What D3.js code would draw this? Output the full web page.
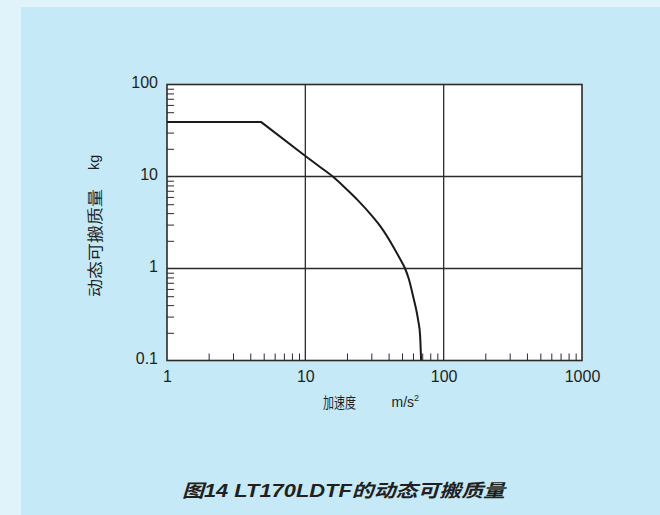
<!DOCTYPE html>
<html>
<head>
<meta charset="utf-8">
<script src="https://cdn.jsdelivr.net/npm/d3@7"></script>
<style>
  html, body { margin: 0; padding: 0; background: #e0f3fb; }
  svg { display: block; }
  text { fill: #231f20; font-family: "Liberation Sans", Arial, "Noto Sans CJK SC", sans-serif; }
  .cjk { font-family: "Noto Sans CJK SC", sans-serif; }
</style>
</head>
<body>
<svg id="chart" width="660" height="515"></svg>
<script>
// Dynamic payload vs. acceleration (log-log)
const acceleration = [1, 4.8, 10, 12.5, 15.8, 20, 24, 30, 35, 43, 48, 52.6, 56, 60.5, 63.5, 65.5, 67.5, 68.7];
const payload      = [39, 39, 16.7, 13.0, 10, 7.2, 5.5, 3.8, 2.85, 1.75, 1.3, 1, 0.77, 0.48, 0.35, 0.27, 0.19, 0.1];

const xMajorTicks = [1, 10, 100, 1000];
const yMajorTicks = [0.1, 1, 10, 100];
const xTickLabels = ["1", "10", "100", "1000"];
const yTickLabels = ["0.1", "1", "10", "100"];
const minorSteps  = [2, 3, 4, 5, 6, 7, 8, 9];

const svg = d3.select("#chart");
const ink = "#2b2b2b";

// panel background
svg.append("rect").attr("x", 21).attr("y", 7).attr("width", 660 - 21).attr("height", 515 - 7)
  .attr("fill", "#c6e9f8");

const plotLeft = 167, plotRight = 582, plotTop = 84.5, plotBottom = 360.5;
const x = d3.scaleLog().domain([1, 1000]).range([plotLeft, plotRight]);
const y = d3.scaleLog().domain([0.1, 100]).range([plotBottom, plotTop]);

// plot area
svg.append("rect").attr("x", plotLeft).attr("y", plotTop)
  .attr("width", plotRight - plotLeft).attr("height", plotBottom - plotTop)
  .attr("fill", "#ffffff");

// minor ticks inside the frame
const xMinor = [];
const yMinor = [];
[1, 10, 100].forEach(d => minorSteps.forEach(s => xMinor.push(d * s)));
[0.1, 1, 10].forEach(d => minorSteps.forEach(s => yMinor.push(d * s)));

const gxMinor = svg.append("g").attr("transform", `translate(0,${plotBottom})`)
  .call(d3.axisBottom(x).tickValues(xMinor).tickSize(-7).tickFormat(""));
gxMinor.select(".domain").remove();
gxMinor.selectAll("line").attr("stroke", ink).attr("stroke-width", 1);

const gyMinor = svg.append("g").attr("transform", `translate(${plotLeft},0)`)
  .call(d3.axisLeft(y).tickValues(yMinor).tickSize(-7).tickFormat(""));
gyMinor.select(".domain").remove();
gyMinor.selectAll("line").attr("stroke", ink).attr("stroke-width", 1);

// grid lines at the inner decades
svg.append("g").selectAll("line").data([10, 100]).join("line")
  .attr("x1", d => x(d)).attr("x2", d => x(d))
  .attr("y1", plotTop).attr("y2", plotBottom)
  .attr("stroke", ink).attr("stroke-width", 1.3);
svg.append("g").selectAll("line").data([1, 10]).join("line")
  .attr("x1", plotLeft).attr("x2", plotRight)
  .attr("y1", d => y(d)).attr("y2", d => y(d))
  .attr("stroke", ink).attr("stroke-width", 1.3);

// frame
svg.append("rect").attr("x", plotLeft).attr("y", plotTop)
  .attr("width", plotRight - plotLeft).attr("height", plotBottom - plotTop)
  .attr("fill", "none").attr("stroke", ink).attr("stroke-width", 1.6);

// major tick labels
const gx = svg.append("g").attr("transform", `translate(0,${plotBottom})`)
  .call(d3.axisBottom(x).tickValues(xMajorTicks).tickSize(0).tickPadding(10)
    .tickFormat((d, i) => xTickLabels[i]));
gx.select(".domain").remove();
gx.selectAll("text").attr("font-size", 16).attr("fill", "#231f20")
  .attr("font-family", "'Liberation Sans', Arial, sans-serif");

const gy = svg.append("g").attr("transform", `translate(${plotLeft},0)`)
  .call(d3.axisLeft(y).tickValues(yMajorTicks).tickSize(0).tickPadding(9)
    .tickFormat((d, i) => yTickLabels[i]));
gy.select(".domain").remove();
gy.selectAll("text").attr("font-size", 16).attr("dy", 2.5).attr("fill", "#231f20")
  .attr("font-family", "'Liberation Sans', Arial, sans-serif");

// payload curve: flat limit, straight roll-off, then a smooth drop
const pts = acceleration.map((a, i) => [x(a), y(payload[i])]);
const straight = d3.line().curve(d3.curveLinear);
const smooth = d3.line().curve(d3.curveMonotoneX);
svg.append("path").attr("d", straight(pts.slice(0, 3)))
  .attr("fill", "none").attr("stroke", "#1a1a1a").attr("stroke-width", 2);
svg.append("path").attr("d", smooth(pts.slice(2)))
  .attr("fill", "none").attr("stroke", "#1a1a1a").attr("stroke-width", 2);

// axis titles
svg.append("text").attr("class", "cjk").attr("x", 323).attr("y", 407.5)
  .attr("font-size", 15).attr("textLength", 33).attr("lengthAdjust", "spacingAndGlyphs")
  .text("加速度");
const unit = svg.append("text").attr("x", 391.5).attr("y", 406.7).attr("font-size", 14);
unit.append("tspan").text("m/s");
unit.append("tspan").attr("font-size", 9).attr("dy", -6).text("2");

const yTitle = svg.append("g").attr("transform", "translate(101,0) rotate(-90)");
yTitle.append("text").attr("class", "cjk").attr("x", -297).attr("y", 0)
  .attr("font-size", 15.5).attr("textLength", 108).attr("lengthAdjust", "spacingAndGlyphs")
  .text("动态可搬质量");
yTitle.append("text").attr("x", -170).attr("y", -2).attr("font-size", 14.5).text("kg");

// caption
svg.append("text").attr("x", 182).attr("y", 497)
  .attr("font-size", 18).attr("font-weight", "bold").attr("font-style", "italic")
  .attr("textLength", 323).attr("lengthAdjust", "spacingAndGlyphs")
  .style("font-family", "'Liberation Sans', Arial, 'Noto Sans CJK SC', sans-serif")
  .text("图14 LT170LDTF的动态可搬质量");
</script>
</body>
</html>
